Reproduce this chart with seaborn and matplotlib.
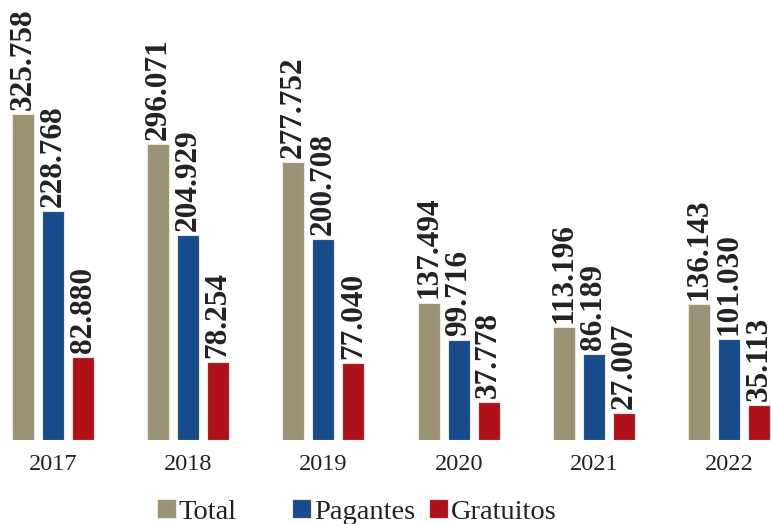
import matplotlib
matplotlib.use("Agg")
import matplotlib.pyplot as plt
import seaborn as sns
import pandas as pd
from matplotlib.patches import Patch

years = ["2017", "2018", "2019", "2020", "2021", "2022"]
total = [325758, 296071, 277752, 137494, 113196, 136143]
pagantes = [228768, 204929, 200708, 99716, 86189, 101030]
gratuitos = [82880, 78254, 77040, 37778, 27007, 35113]
series = ["Total", "Pagantes", "Gratuitos"]
colors = ["#9A9272", "#174B8B", "#B01119"]

df = pd.DataFrame({
    "Ano": years * 3,
    "Serie": [series[0]] * 6 + [series[1]] * 6 + [series[2]] * 6,
    "Valor": total + pagantes + gratuitos,
})

sns.set_theme(style="white")
plt.rcParams["font.family"] = ["Liberation Serif", "DejaVu Serif"]

fig = plt.figure(figsize=(7.71, 5.24), dpi=100)
ax = fig.add_axes([0, 84 / 524, 1, 1 - 84 / 524])

sns.barplot(data=df, x="Ano", y="Valor", hue="Serie", hue_order=series,
            palette=colors, order=years, width=0.666, gap=0.265,
            saturation=1, edgecolor="#ece8dc", linewidth=0.8, legend=False, ax=ax)

for cont in ax.containers:
    ax.bar_label(cont, labels=[f"{int(v):,}".replace(",", ".") for v in cont.datavalues],
                 rotation=90, padding=3, fontsize=22.5, fontweight="bold",
                 color="#222222")

ax.set_xlim(-0.392, 5.31)
ax.set_ylim(0, 440000)
ax.set_xlabel("")
ax.set_ylabel("")
ax.set_yticks([])
ax.tick_params(axis="x", length=0, pad=10, labelsize=17.5, labelcolor="#222222")
for s in ax.spines.values():
    s.set_visible(False)

xs = [157 / 771, 292 / 771, 429 / 771]
for name, col, x in zip(series, colors, xs):
    fig.legend(handles=[Patch(facecolor=col, edgecolor="#ece8dc", linewidth=0.8)],
               labels=[name], loc="center left", bbox_to_anchor=(x, 12 / 524),
               frameon=False, fontsize=20.5, handlelength=0.65, handleheight=0.65,
               handletextpad=0.12, borderpad=0, borderaxespad=0,
               labelcolor="#222222")

fig.savefig("out.png", dpi=100)
